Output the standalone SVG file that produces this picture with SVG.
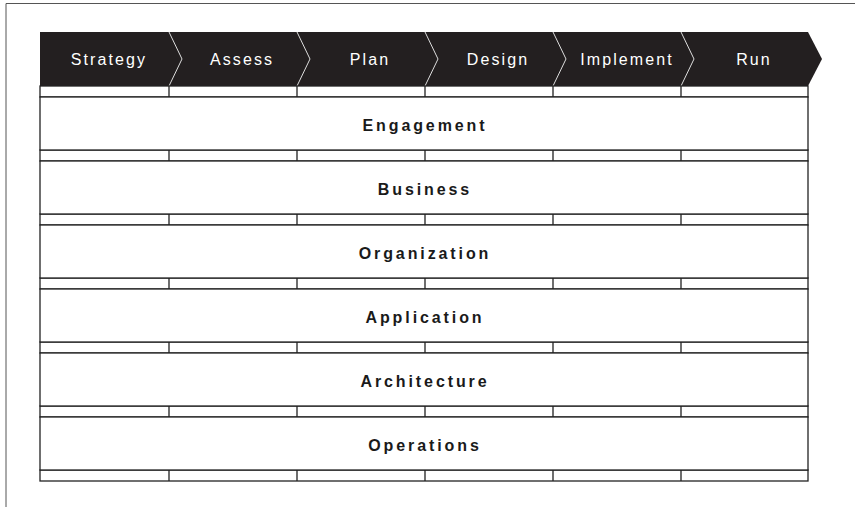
<svg xmlns="http://www.w3.org/2000/svg" width="855" height="507" viewBox="0 0 855 507">
<style>
.frame{fill:none;stroke:#555;stroke-width:1}
.sep{fill:none;stroke:#ddd;stroke-width:1}
.strip{fill:#fff;stroke:#222;stroke-width:1.3}
.band{fill:#fff;stroke:#222;stroke-width:1.3}
.ph{font-family:"Liberation Sans",Arial,sans-serif;font-size:16px;fill:#fff;letter-spacing:2.1px;text-anchor:middle}
.row{font-family:"Liberation Sans",Arial,sans-serif;font-size:16px;font-weight:bold;fill:#1a1a1a;letter-spacing:2.9px;text-anchor:middle}
</style>
<rect width="855" height="507" fill="#fff"/>
<path class="frame" d="M6,507 V3.5 H855"/>
<g id="phases">
<path d="M40,32 H808 L822,59 L808,86 H40 Z" fill="#231f20"/>
<path class="sep" d="M169,32 L182,59 L169,86 M297,32 L310,59 L297,86 M425,32 L438,59 L425,86 M553,32 L566,59 L553,86 M681,32 L694,59 L681,86"/>
<text class="ph" x="109" y="65">Strategy</text>
<text class="ph" x="242" y="65">Assess</text>
<text class="ph" x="370" y="65">Plan</text>
<text class="ph" x="498" y="65">Design</text>
<text class="ph" x="627" y="65">Implement</text>
<text class="ph" x="754" y="65">Run</text>
</g>
<defs>
<g id="strip">
<rect class="strip" x="40" y="0" width="768" height="11"/>
<path stroke="#222" stroke-width="1.3" d="M169,0 V11 M297,0 V11 M425,0 V11 M553,0 V11 M681,0 V11"/>
</g>
</defs>
<g id="strips">
<use href="#strip" y="86"/>
<use href="#strip" y="150"/>
<use href="#strip" y="214"/>
<use href="#strip" y="278"/>
<use href="#strip" y="342"/>
<use href="#strip" y="406"/>
<use href="#strip" y="470"/>
</g>
<g id="engagement"><rect class="band" x="40" y="97" width="768" height="53"/><text class="row" x="425" y="131">Engagement</text></g>
<g id="business"><rect class="band" x="40" y="161" width="768" height="53"/><text class="row" x="425" y="195">Business</text></g>
<g id="organization"><rect class="band" x="40" y="225" width="768" height="53"/><text class="row" x="425" y="259">Organization</text></g>
<g id="application"><rect class="band" x="40" y="289" width="768" height="53"/><text class="row" x="425" y="323">Application</text></g>
<g id="architecture"><rect class="band" x="40" y="353" width="768" height="53"/><text class="row" x="425" y="387">Architecture</text></g>
<g id="operations"><rect class="band" x="40" y="417" width="768" height="53"/><text class="row" x="425" y="451">Operations</text></g>
</svg>
